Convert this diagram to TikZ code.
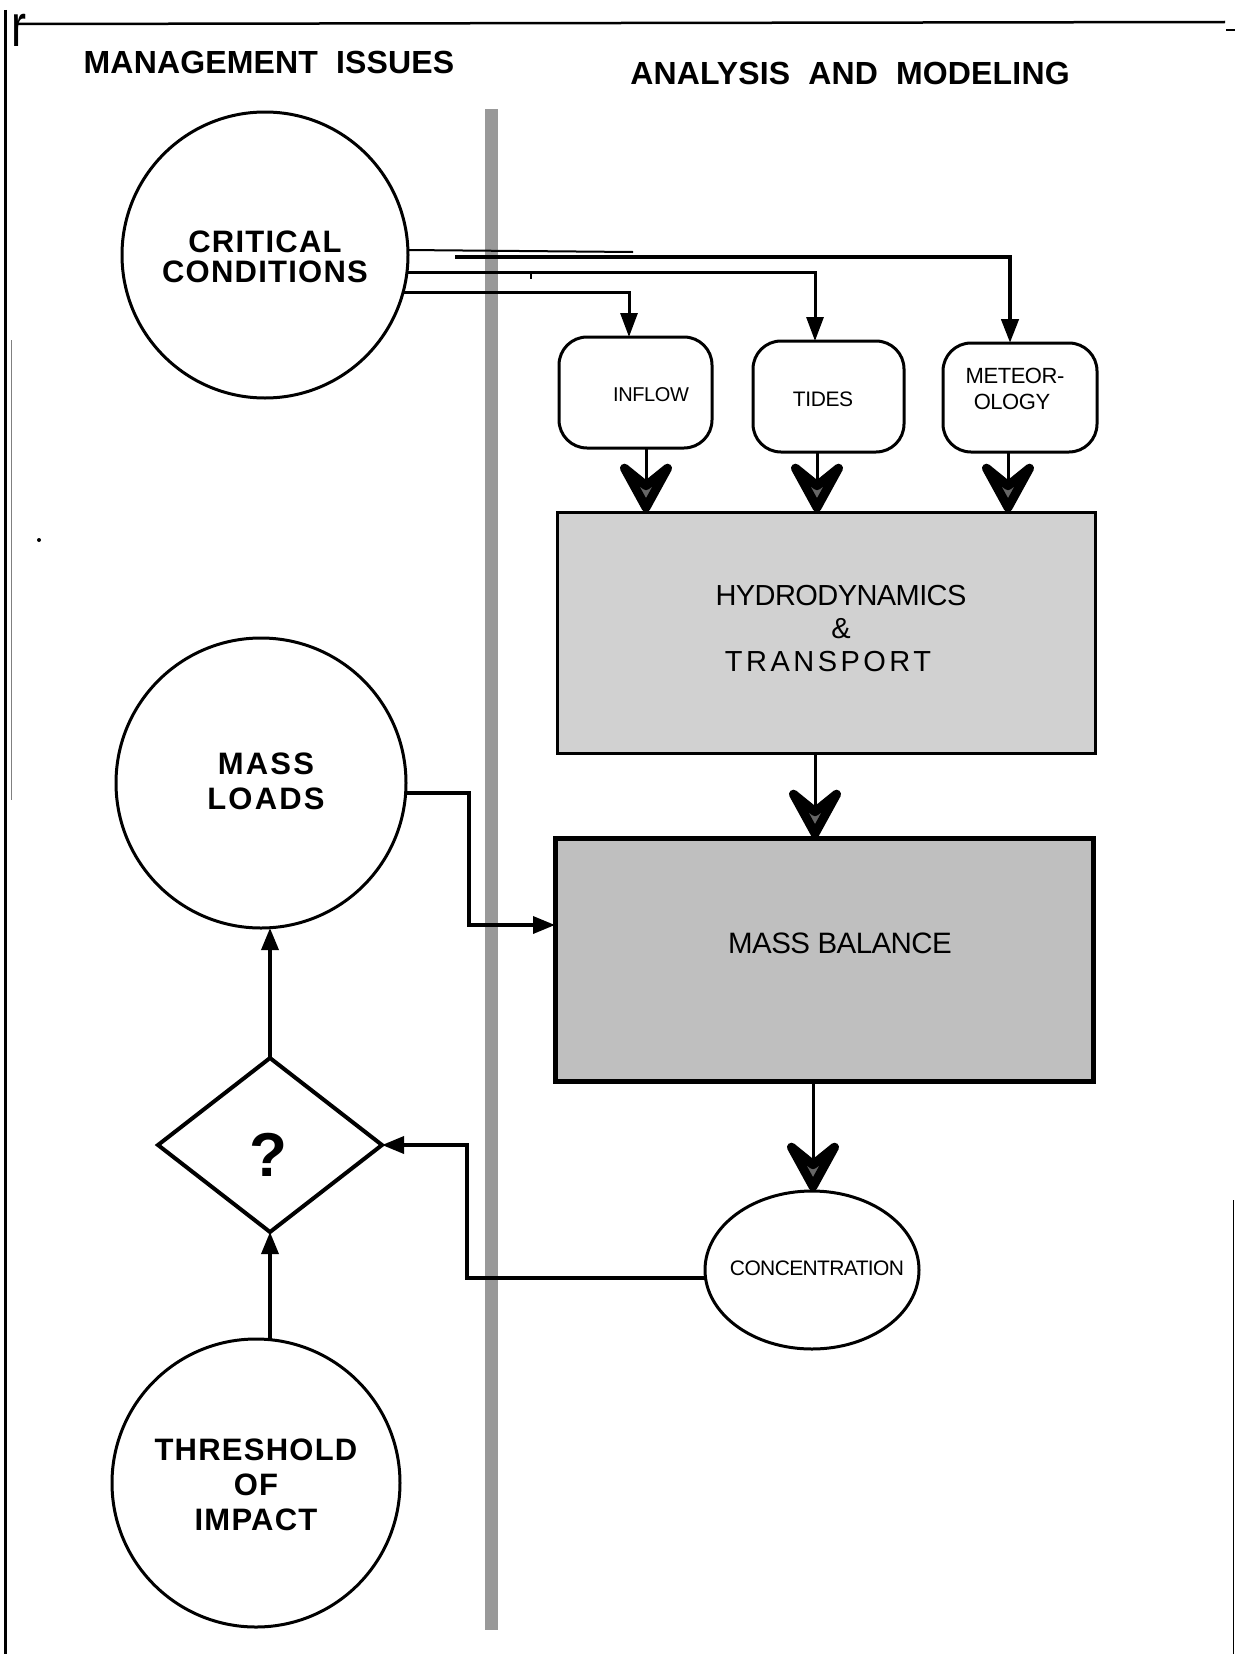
\documentclass[tikz,border=0pt]{standalone}
\usepackage{fontspec}
\setmainfont{Liberation Sans}
\newfontfamily\headfont[LetterSpace=0.5]{Liberation Sans}
\newfontfamily\circfont[LetterSpace=4]{Liberation Sans}
\newfontfamily\wcircfont[LetterSpace=7]{Liberation Sans}
\newfontfamily\boxfont[LetterSpace=-2]{Liberation Sans}
\newfontfamily\wboxfont[LetterSpace=12]{Liberation Sans}
\usetikzlibrary{arrows.meta,shapes.geometric}
\begin{document}
\begin{tikzpicture}[x=1pt,y=-1pt,
  every node/.style={inner sep=0pt,outer sep=0pt},
  bubble/.style={circle,draw,line width=3pt},
  inbox/.style={rectangle,rounded corners=28pt,draw,line width=3pt},
  bigbox/.style={rectangle,draw,line width=3pt,fill=black!18},
  heavybox/.style={rectangle,draw,line width=5pt,fill=black!25},
  sarr/.style={line width=3.5pt,-{Triangle[length=22pt,width=17pt]}},
  chev/.style={line width=3pt,-{Stealth[length=66pt,width=72pt,inset=29pt,fill=black!60,line width=9pt,round]}},
  head/.style={font=\fontsize{32}{33}\selectfont\headfont\bfseries},
  ctext/.style={font=\fontsize{31}{30}\selectfont\circfont\bfseries,align=center},
  btext/.style={font=\fontsize{20}{25}\selectfont\boxfont,align=center}
]
\useasboundingbox (0,0) rectangle (1235,1654);
% frame
\draw[line width=3pt] (5,10) -- (5,1654);
\draw[line width=1pt,black!50] (11,340) -- (11,800);
\draw[line width=2.5pt] (18,24) -- (1225,22);
\draw[line width=2pt] (1226,30) -- (1235,30);
\draw[line width=1pt] (1233,1200) -- (1233,1654);
\fill (39,540) circle (2);
\node[font=\fontsize{60}{60}\selectfont] (rmark) at (19,30) {\scalebox{0.75}[1]{r}};
% headers
\node[head] (h1) at (269,62.5) {MANAGEMENT\ \ ISSUES};
\node[head] (h2) at (850,73.5) {ANALYSIS\ \ AND\ \ MODELING};
% gray divider band
\fill[black!40] (485,109) rectangle (498,1630);
% left column
\node[bubble,minimum size=286pt] (crit) at (265,255) {};
\node[ctext,font=\fontsize{31}{30}\selectfont\circfont\bfseries] (critt) at (265,257) {CRITICAL\\CONDITIONS};
\node[bubble,minimum size=290pt] (mass) at (261,783) {};
\node[ctext,font=\fontsize{31}{35}\selectfont\wcircfont\bfseries] (masst) at (266,781) {MASS\\LOADS};
\node[diamond,draw,line width=4pt,minimum width=224pt,minimum height=174pt] (q) at (270,1145) {};
\node[font=\fontsize{62}{62}\selectfont\bfseries] (qm) at (268,1155) {?};
\node[bubble,minimum size=288pt] (thr) at (256,1483) {};
\node[ctext,font=\fontsize{31}{35}\selectfont\circfont\bfseries] (thrt) at (256,1485) {THRESHOLD\\OF\\IMPACT};
% right column
\node[inbox,minimum width=153pt,minimum height=111pt] (inflow) at (635.5,392.5) {};
\node[btext] (inflowt) at (651,395) {INFLOW};
\node[inbox,minimum width=151pt,minimum height=111pt] (tides) at (828.5,396.5) {};
\node[btext,font=\fontsize{21}{25}\selectfont\boxfont] (tidest) at (823,399) {TIDES};
\node[inbox,minimum width=154pt,minimum height=109pt] (meteo) at (1020,397.5) {};
\node[btext,font=\fontsize{22}{26}\selectfont\boxfont] (meteot) at (1015,389) {METEOR-\\OLOGY\hspace*{6pt}};
\node[bigbox,minimum width=538pt,minimum height=241pt] (hydro) at (826,632.5) {};
\node[btext,font=\fontsize{29}{33}\selectfont\boxfont] (hydrot) at (841,629) {HYDRODYNAMICS\\\&\hspace*{30pt}\\{\wboxfont TRANSPORT}\hspace*{26pt}};
\node[heavybox,minimum width=538pt,minimum height=243pt] (mbal) at (824,959.5) {};
\node[btext,font=\fontsize{29.5}{33}\selectfont\boxfont] (mbalt) at (840,943) {MASS BALANCE};
\node[ellipse,draw,line width=3pt,minimum width=214pt,minimum height=158pt] (conc) at (812,1270) {};
\node[btext,font=\fontsize{21}{25}\selectfont\addfontfeature{LetterSpace=-3}] (conct) at (817,1268) {CONCENTRATION};
% connectors from critical conditions
\coordinate (aend) at (633,252);
\coordinate (bstart) at (455,257);
\draw[line width=2pt] (crit.2) -- (aend);
\path (meteo.north) ++(-10,0) coordinate (mN);
\draw[line width=4.5pt,-{Triangle[length=24pt,width=17pt]}] (bstart) -| (mN);
\path (tides.north) ++(-13.5,0) coordinate (tN);
\draw[line width=3pt,-{Triangle[length=24pt,width=17pt]}] (crit.-7) -| (tN);
\path (inflow.north) ++(-6.5,0) coordinate (iN);
\draw[line width=3pt,-{Triangle[length=24pt,width=17pt]}] (crit.-15) -| (iN);
\draw[line width=1.5pt] (531,272) -- (531,279);
% chevron arrows into hydrodynamics
\path (inflow.south) ++(10.5,0) coordinate (iS);
\draw[chev] (iS) -- (iS |- hydro.north);
\path (tides.south) ++(-11.5,0) coordinate (tS);
\draw[chev] (tS) -- (tS |- hydro.north);
\path (meteo.south) ++(-12,0) coordinate (mS);
\draw[chev] (mS) -- (mS |- hydro.north);
\path (hydro.south) ++(-11,0) coordinate (hS);
\draw[chev] (hS) -- (hS |- mbal.north);
\path (mbal.south) ++(-11,0) coordinate (bS);
\draw[chev] (bS) -- (bS |- conc.north);
% mass loads -> mass balance
\coordinate (mlj) at (469,925);
\draw[sarr] (mass.-4) -| (mlj) -- (mlj -| mbal.west);
% concentration -> decision
\coordinate (cj) at (467,1145);
\draw[sarr] ([yshift=-8pt]conc.west) -| (cj) -- (q.east);
% decision -> mass loads, threshold -> decision
\draw[sarr] (q.north) -- (q.north |- mass.south);
\draw[sarr] (q.south |- thr.north) -- (q.south);
\end{tikzpicture}
\end{document}
